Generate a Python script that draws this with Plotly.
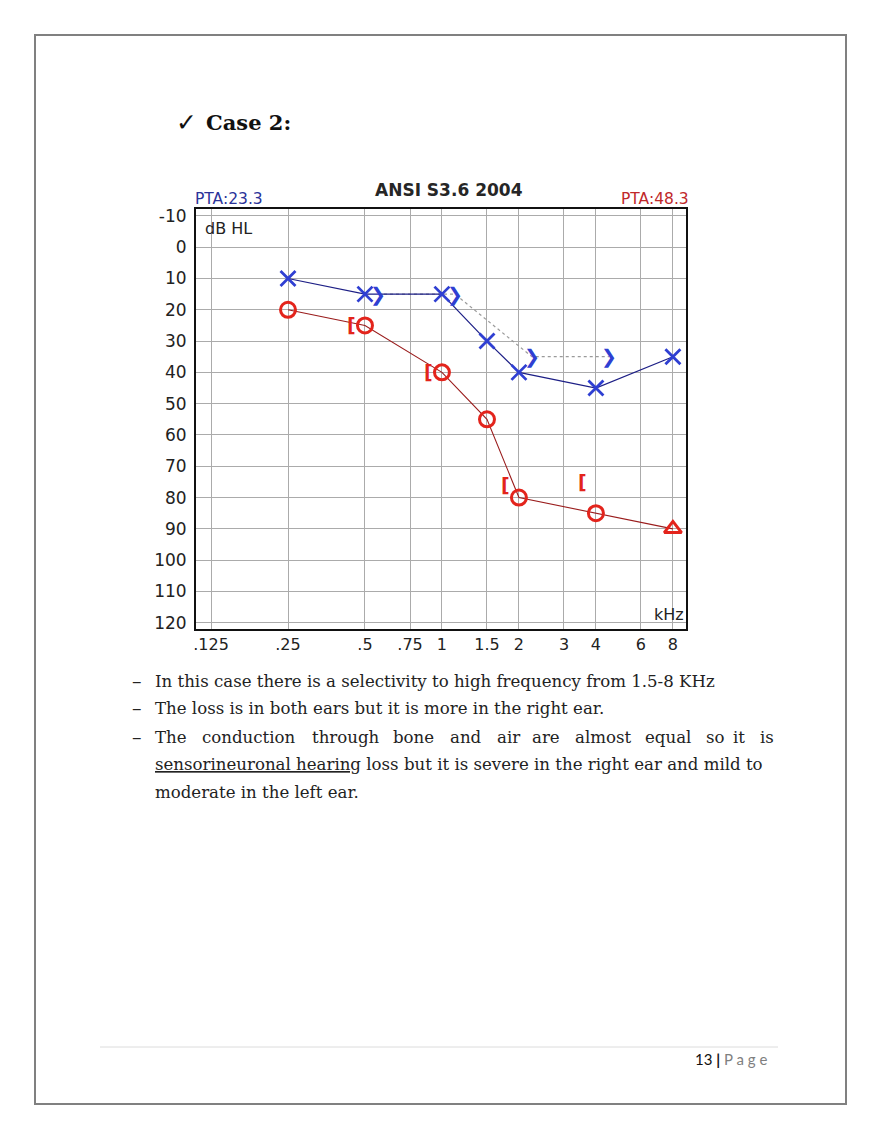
import math
import plotly.graph_objects as go

# ---------------- data ----------------
freq_ticks = [0.125, 0.25, 0.5, 0.75, 1, 1.5, 2, 3, 4, 6, 8]
freq_tick_labels = [".125", ".25", ".5", ".75", "1", "1.5", "2", "3", "4", "6", "8"]
db_ticks = [-10, 0, 10, 20, 30, 40, 50, 60, 70, 80, 90, 100, 110, 120]
db_tick_labels = ["-10", "0", "10", "20", "30", "40", "50", "60", "70", "80", "90", "100", "110", "120"]

left_ac_freq = [0.25, 0.5, 1, 1.5, 2, 4, 8]
left_ac_db = [10, 15, 15, 30, 40, 45, 35]

left_bc_freq = [0.5, 1, 2, 4]
left_bc_db = [15, 15, 35, 35]

right_ac_freq = [0.25, 0.5, 1, 1.5, 2, 4, 8]
right_ac_db = [20, 25, 40, 55, 80, 85, 90]
right_ac_symbols = ["circle-open"] * 6 + ["triangle-up-open"]

right_bc_freq = [0.5, 1, 2, 4]
right_bc_db = [25, 40, 76, 75]

pta_left = "PTA:23.3"
pta_right = "PTA:48.3"
chart_title = "ANSI S3.6 2004"

# page is rendered with an 8px body margin -> compensate
OFF = 8
W, H = 872, 1131
def px(x): return (x - OFF) / W
def py(y): return 1 - (y - OFF) / H
PAD = 3  # annotation inner padding

BLUE = "#2f3fd2"
NAVY = "#1d1f86"
RED = "#e3241c"
DARKRED = "#9a1c1c"
CHART_FONT = "DejaVu Sans"

fig = go.Figure()

# dotted bone-conduction connector (left ear), offset to the right of the frequency
bc_shift = 2 ** (13 / 77)
fig.add_trace(go.Scatter(
    x=[f * bc_shift for f in left_bc_freq], y=left_bc_db, mode="lines",
    line=dict(color="#9a9a9a", width=1.2, dash="dot"), hoverinfo="skip", showlegend=False))

fig.add_trace(go.Scatter(
    x=left_ac_freq, y=left_ac_db, mode="lines+markers",
    line=dict(color=NAVY, width=1.2),
    marker=dict(symbol="x-thin-open", size=15, line=dict(color=BLUE, width=2.8), color=BLUE),
    showlegend=False))

fig.add_trace(go.Scatter(
    x=right_ac_freq, y=right_ac_db, mode="lines+markers",
    line=dict(color=DARKRED, width=1.1),
    marker=dict(symbol=right_ac_symbols, size=15, line=dict(color=RED, width=3), color=RED),
    showlegend=False))

annotations = []
for f, d in zip(left_bc_freq, left_bc_db):
    annotations.append(dict(x=math.log10(f), y=d, xref="x", yref="y", text="❯", showarrow=False,
                            xshift=13, font=dict(family="DejaVu Sans", size=19, color=BLUE)))
for f, d in zip(right_bc_freq, right_bc_db):
    annotations.append(dict(x=math.log10(f), y=d, xref="x", yref="y", text="<b>[</b>", showarrow=False,
                            xshift=-13, font=dict(family="DejaVu Sans", size=19, color=RED)))

# chart texts
annotations += [
    dict(x=px(449), y=py(190), xref="paper", yref="paper", text="<b>" + chart_title + "</b>", showarrow=False,
         xanchor="center", yanchor="middle", font=dict(family=CHART_FONT, size=17, color="#262626")),
    dict(x=px(196 - PAD), y=py(199), xref="paper", yref="paper", text=pta_left, showarrow=False,
         xanchor="left", yanchor="middle", font=dict(family=CHART_FONT, size=15.5, color="#2b3399")),
    dict(x=px(688 + PAD), y=py(199), xref="paper", yref="paper", text=pta_right, showarrow=False,
         xanchor="right", yanchor="middle", font=dict(family=CHART_FONT, size=15.5, color="#c0282a")),
    dict(x=px(206 - PAD), y=py(229), xref="paper", yref="paper", text="dB HL", showarrow=False,
         xanchor="left", yanchor="middle", font=dict(family=CHART_FONT, size=16, color="#222")),
    dict(x=px(683 + PAD), y=py(614), xref="paper", yref="paper", text="kHz", showarrow=False,
         xanchor="right", yanchor="middle", font=dict(family=CHART_FONT, size=16, color="#222")),
]

# document texts
SERIF = "DejaVu Serif"
TXT = "#222"
FS = 16.6
annotations.append(dict(x=px(177 - PAD), y=py(123), xref="paper", yref="paper",
                        text="✓", showarrow=False, xanchor="left", yanchor="middle",
                        font=dict(family="DejaVu Sans", size=25, color="#111")))
annotations.append(dict(x=px(207 - PAD), y=py(123), xref="paper", yref="paper",
                        text="<b>Case 2:</b>", showarrow=False, xanchor="left", yanchor="middle",
                        font=dict(family=SERIF, size=21, color="#111")))

bullet_ys = [681, 708, 737]
for yy in bullet_ys:
    annotations.append(dict(x=px(133 - PAD), y=py(yy), xref="paper", yref="paper", text="–",
                            showarrow=False, xanchor="left", yanchor="middle",
                            font=dict(family=SERIF, size=19, color=TXT)))

lines = [
    (681, "In this case there is a selectivity to high frequency from 1.5-8 KHz"),
    (708, "The loss is in both ears but it is more in the right ear."),
    (764, "<u>sensorineuronal hearing</u> loss but it is severe in the right ear and mild to"),
    (792, "moderate in the left ear."),
]
for yy, t in lines:
    annotations.append(dict(x=px(156 - PAD), y=py(yy), xref="paper", yref="paper", text=t,
                            showarrow=False, xanchor="left", yanchor="middle",
                            font=dict(family=SERIF, size=FS, color=TXT)))

just_words = ["The", "conduction", "through", "bone", "and", "air", "are", "almost", "equal", "so", "it", "is"]
just_x = [156, 203, 313, 394, 451, 498, 533, 576, 646, 707, 734, 761]
for wx, w in zip(just_x, just_words):
    annotations.append(dict(x=px(wx - PAD), y=py(737), xref="paper", yref="paper", text=w,
                            showarrow=False, xanchor="left", yanchor="middle",
                            font=dict(family=SERIF, size=FS, color=TXT)))

annotations.append(dict(x=px(769), y=py(1059), xref="paper", yref="paper",
                        text="13 <b>|</b> <span style='color:#7f7f7f'>P a g e</span>",
                        showarrow=False, xanchor="right", yanchor="middle",
                        font=dict(family="Lato", size=15, color="#111")))

shapes = [
    dict(type="rect", xref="paper", yref="paper", x0=px(35), x1=px(846), y0=py(1104), y1=py(35),
         line=dict(color="#808080", width=2)),
    dict(type="line", xref="paper", yref="paper", x0=px(100), x1=px(778), y0=py(1047), y1=py(1047),
         line=dict(color="#dcdcdc", width=1)),
]

fig.update_layout(
    width=W, height=H, margin=dict(l=0, r=0, t=0, b=0),
    paper_bgcolor="white", plot_bgcolor="white",
    annotations=annotations, shapes=shapes, showlegend=False,
    xaxis=dict(type="log", domain=[px(196), px(686)], range=[-0.9618, 0.9543],
               tickvals=freq_ticks, ticktext=freq_tick_labels, showgrid=True,
               gridcolor="#ababab", gridwidth=1.2, showline=True, linecolor="#111", linewidth=2,
               mirror=True, ticks="", zeroline=False, automargin=False,
               tickfont=dict(family=CHART_FONT, size=16, color="#222")),
    yaxis=dict(domain=[py(629), py(209)], range=[122, -12.2], tickvals=db_ticks,
               ticktext=db_tick_labels, ticklabelstandoff=4, automargin=False,
               showgrid=True, gridcolor="#ababab", gridwidth=1.2, showline=True,
               linecolor="#111", linewidth=2, mirror=True, ticks="", zeroline=False,
               tickfont=dict(family=CHART_FONT, size=17, color="#222")),
)

fig.write_html("out.html")
